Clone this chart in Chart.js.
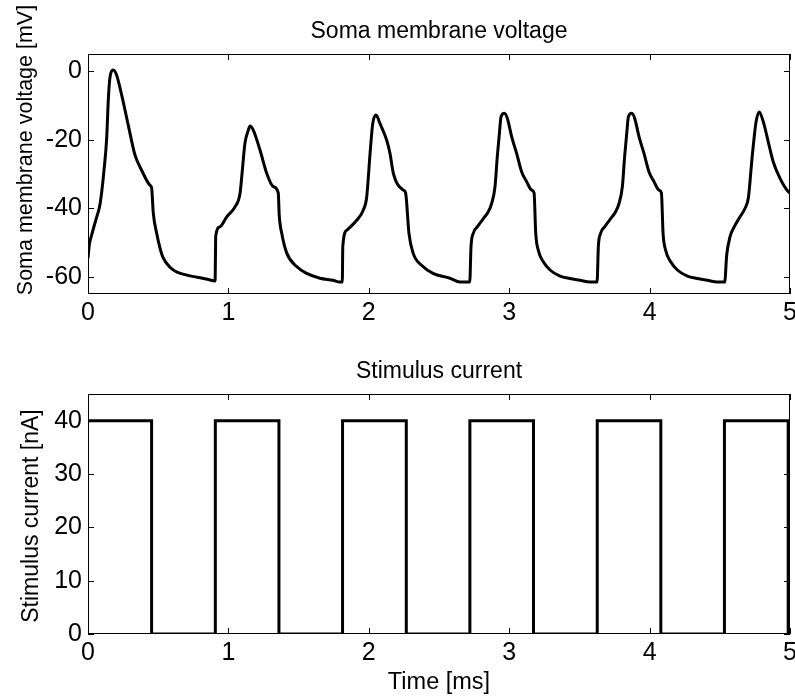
<!DOCTYPE html>
<html>
<head>
<meta charset="utf-8">
<script src="https://cdn.jsdelivr.net/npm/chart.js@4/dist/chart.umd.min.js"></script>
<style>
  body { margin: 0; background: #fff; }
  canvas { position: absolute; left: 0; }
  #voltChart { top: 0; }
  #stimChart { top: 330px; }
</style>
</head>
<body>
<canvas id="voltChart" width="795" height="330"></canvas>
<canvas id="stimChart" width="795" height="368"></canvas>
<script>
// membrane voltage trace (ms, mV)
const voltTime = [
  0.000, 0.010, 0.026, 0.055, 0.085, 0.102, 0.114, 0.133, 0.145, 0.157, 0.180, 0.204, 0.240, 0.287, 0.335, 0.382, 0.442, 0.453,
  0.465, 0.489, 0.513, 0.534, 0.584, 0.634, 0.705, 0.776, 0.850, 0.905,
  0.910, 0.940, 0.988, 1.047, 1.083, 1.095, 1.118, 1.142, 1.154, 1.177, 1.225, 1.273, 1.320, 1.355,
  1.362, 1.380, 1.415, 1.486, 1.558, 1.652, 1.745, 1.795, 1.811,
  1.815, 1.843, 1.914, 1.961, 1.985, 2.009, 2.028, 2.051, 2.080, 2.127, 2.151, 2.175, 2.246, 2.262,
  2.286, 2.315, 2.386, 2.457, 2.578, 2.650, 2.719,
  2.728, 2.744, 2.773, 2.816, 2.851, 2.875, 2.899, 2.915, 2.930, 2.942, 2.966, 2.987, 3.018, 3.053, 3.089, 3.125, 3.160, 3.177,
  3.189, 3.207, 3.243, 3.291, 3.362, 3.433, 3.504, 3.575, 3.626,
  3.635, 3.651, 3.680, 3.723, 3.758, 3.782, 3.806, 3.822, 3.837, 3.849, 3.873, 3.894, 3.925, 3.960, 3.996, 4.032, 4.067, 4.084,
  4.096, 4.114, 4.150, 4.198, 4.269, 4.340, 4.411, 4.482, 4.535,
  4.549, 4.573, 4.608, 4.644, 4.680, 4.703, 4.715, 4.727, 4.744, 4.758, 4.781, 4.810, 4.845, 4.881, 4.929, 4.988, 5.000
];
const voltValue = [
  -54.5, -50.5, -47.8, -43.5, -39.0, -33.7, -28.9, -19.6, -8.0, -1.7, 0.3, -1.2, -7.0, -15.8, -24.5, -28.9, -33.3, -34.0,
  -41.4, -47.3, -51.6, -54.3, -57.2, -58.6, -59.5, -60.1, -60.7, -61.2,
  -48.0, -45.4, -42.5, -39.6, -35.6, -30.8, -21.0, -17.2, -16.0, -17.2, -23.0, -29.8, -33.7, -35.5,
  -42.0, -47.3, -53.0, -57.0, -59.0, -60.4, -61.0, -61.5, -61.5,
  -51.0, -46.4, -43.5, -40.5, -36.7, -24.0, -15.3, -12.8, -15.3, -20.1, -24.0, -29.8, -34.7, -35.5,
  -47.3, -53.0, -57.0, -59.0, -60.4, -61.5, -61.5,
  -51.2, -47.3, -45.4, -43.0, -41.0, -38.6, -33.7, -25.0, -18.2, -13.3, -12.3, -13.8, -19.2, -24.0, -29.4, -32.3, -34.7, -35.5,
  -47.3, -52.2, -55.6, -58.0, -59.8, -60.5, -61.0, -61.5, -61.5,
  -51.2, -47.3, -45.4, -43.0, -41.0, -38.6, -33.7, -25.0, -18.2, -13.3, -12.3, -13.8, -19.2, -24.0, -29.4, -32.3, -34.7, -35.5,
  -47.3, -52.2, -55.6, -58.0, -59.8, -60.5, -61.0, -61.5, -61.5,
  -53.7, -48.3, -45.0, -42.5, -40.0, -37.1, -32.3, -26.5, -19.6, -14.8, -11.9, -14.8, -20.6, -26.5, -31.3, -35.2, -35.5
];

// stimulus current, value holds until the next time (ms, nA)
const stimTime = [0, 0.453, 0.907, 1.360, 1.813, 2.267, 2.720, 3.173, 3.627, 4.080, 4.533, 4.987, 5.0];
const stimValue = [40, 0, 40, 0, 40, 0, 40, 0, 40, 0, 40, 0, 0];

const voltTicks = [-60, -40, -20, 0];
const stimTicks = [0, 10, 20, 30, 40];
const timeTicks = [0, 1, 2, 3, 4, 5];

const FONT = "'Liberation Sans', Arial, Helvetica, sans-serif";
Chart.defaults.font.family = FONT;
Chart.defaults.color = "#000";

function toPoints(xs, ys) {
  return xs.map((t, i) => ({ x: t, y: ys[i] }));
}

// MATLAB style box with inward ticks on all four sides
const boxTicks = {
  id: "boxTicks",
  afterDraw(chart) {
    const { ctx, chartArea: a, scales } = chart;
    const len = 6;
    ctx.save();
    ctx.strokeStyle = "#000";
    ctx.lineWidth = 1;
    ctx.strokeRect(a.left + 0.5, a.top + 0.5, a.width - 1, a.height - 1);
    ctx.beginPath();
    scales.x.ticks.forEach((t) => {
      const px = Math.round(scales.x.getPixelForValue(t.value)) + 0.5;
      ctx.moveTo(px, a.top);
      ctx.lineTo(px, a.top + len);
      ctx.moveTo(px, a.bottom);
      ctx.lineTo(px, a.bottom - len);
    });
    scales.y.ticks.forEach((t) => {
      const py = Math.round(scales.y.getPixelForValue(t.value)) + 0.5;
      ctx.moveTo(a.left, py);
      ctx.lineTo(a.left + len, py);
      ctx.moveTo(a.right, py);
      ctx.lineTo(a.right - len, py);
    });
    ctx.stroke();
    ctx.restore();
  },
};

// plot title centred over the axes box, and the y label where MATLAB put it
const axisText = {
  id: "axisText",
  afterDraw(chart, args, o) {
    const { ctx, chartArea: a } = chart;
    ctx.save();
    ctx.fillStyle = "#000";
    ctx.textAlign = "center";
    ctx.textBaseline = "alphabetic";
    ctx.font = o.titleSize + "px " + FONT;
    ctx.fillText(o.title, (a.left + a.right) / 2, o.titleBase);
    ctx.translate(o.yBase, o.yMid);
    ctx.rotate(-Math.PI / 2);
    ctx.font = o.ySize + "px " + FONT;
    ctx.fillText(o.yTitle, 0, 0);
    ctx.restore();
  },
};

function makeChart(id, opts) {
  return new Chart(document.getElementById(id), {
    type: "line",
    data: {
      datasets: [
        {
          data: opts.points,
          borderColor: "#000",
          borderWidth: 3,
          pointRadius: 0,
          fill: false,
          stepped: opts.stepped || false,
          cubicInterpolationMode: opts.stepped ? "default" : "monotone",
        },
      ],
    },
    options: {
      responsive: false,
      animation: false,
      layout: { padding: { left: 0, right: 5, top: opts.padTop, bottom: opts.padBottom } },
      plugins: {
        legend: { display: false },
        tooltip: { enabled: false },
        title: { display: false },
        axisText: opts.text,
      },
      scales: {
        x: {
          type: "linear",
          min: 0,
          max: 5,
          afterBuildTicks: (s) => { s.ticks = timeTicks.map((v) => ({ value: v })); },
          afterFit: (s) => {
            s.height = opts.xHeight;
            s.paddingLeft = 0;
            s.paddingRight = 0;
          },
          grid: { display: false, drawTicks: false },
          border: { display: false },
          ticks: { font: { size: 25 }, padding: 4, maxRotation: 0 },
          title: {
            display: !!opts.xTitle,
            text: opts.xTitle || "",
            font: { size: 23.5 },
            padding: 0,
          },
        },
        y: {
          min: opts.yMin,
          max: opts.yMax,
          afterBuildTicks: (s) => { s.ticks = opts.yTicks.map((v) => ({ value: v })); },
          afterFit: (s) => {
            s.width = 88;
            s.paddingTop = 0;
            s.paddingBottom = 0;
          },
          grid: { display: false, drawTicks: false },
          border: { display: false },
          ticks: { font: { size: 25 }, padding: 6 },
          title: { display: false },
        },
      },
    },
    plugins: [boxTicks, axisText],
  });
}

makeChart("voltChart", {
  points: toPoints(voltTime, voltValue),
  text: {
    title: "Soma membrane voltage", titleSize: 23, titleBase: 38,
    yTitle: "Soma membrane voltage [mV]", ySize: 21.5, yBase: 32, yMid: 150,
  },
  yMin: -65,
  yMax: 5,
  yTicks: voltTicks,
  padTop: 54,
  padBottom: 0,
  xHeight: 36,
});

makeChart("stimChart", {
  points: toPoints(stimTime, stimValue),
  stepped: true,
  text: {
    title: "Stimulus current", titleSize: 23, titleBase: 48,
    yTitle: "Stimulus current [nA]", ySize: 23, yBase: 38, yMid: 186,
  },
  xTitle: "Time [ms]",
  yMin: 0,
  yMax: 45,
  yTicks: stimTicks,
  padTop: 64,
  padBottom: 1,
  xHeight: 63,
});
</script>
</body>
</html>
